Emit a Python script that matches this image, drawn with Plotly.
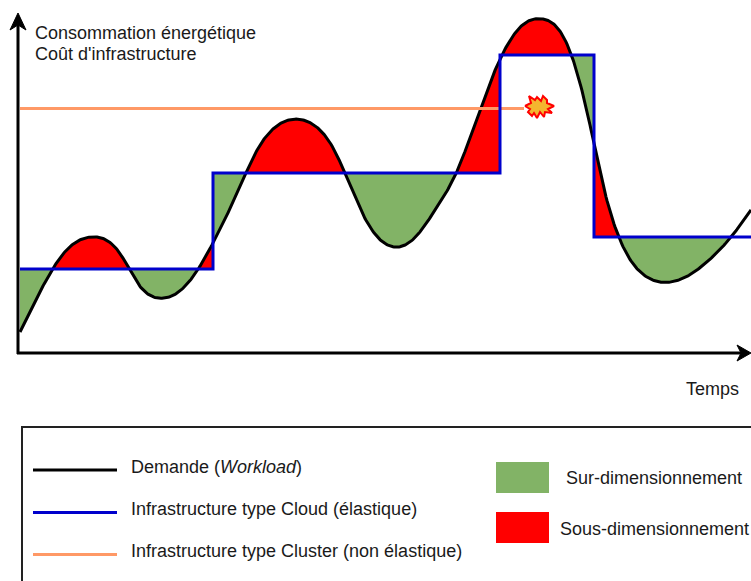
import numpy as np
import plotly.graph_objects as go

# Demand curve (time, level in picture units, level grows downward)
demand_x = [20, 43, 65, 93, 120, 138, 161, 188, 213, 237, 258, 275, 298, 318, 333, 358, 372, 398, 415, 433, 458, 478, 500, 523, 542, 558, 570, 588, 603, 619, 645, 667, 687, 710, 731, 751]
demand_y = [332, 286, 251.7, 236.9, 253.4, 283.7, 298.3, 283, 243, 193.2, 148.5, 127.3, 119.2, 128.2, 147.7, 204.2, 230.1, 247, 237.6, 213.3, 169, 115, 59.2, 24.6, 18.9, 28.5, 51.3, 115.9, 184.8, 237.5, 275.8, 282.4, 276.4, 259.2, 237.1, 210]

# Elastic infrastructure steps
cloud_edges = [20, 213, 500, 594, 751]
cloud_levels = [269, 173, 55, 237]
fill_end = 731

# Fixed cluster capacity
cluster_x = [20, 524]
cluster_y = [108.5, 108.5]

# Overload burst outline
burst_x = [525, 531, 529, 535, 537, 541, 543, 547, 547, 554, 548, 552, 545, 544, 540, 537, 534, 532, 528, 530]
burst_y = [106, 103, 96, 100, 97, 101, 96, 100, 103, 106, 109, 113, 112, 117, 112, 118, 113, 116, 112, 109]

# Labels
y_title = ["Consommation énergétique", "Coût d'infrastructure"]
x_title = "Temps"
line_labels = ["Demande (<i>Workload</i>)", "Infrastructure type Cloud (élastique)", "Infrastructure type Cluster (non élastique)"]
box_labels = ["Sur-dimensionnement", "Sous-dimensionnement"]

BLACK, BLUE, ORANGE, GREEN, RED = "#000000", "#0000CC", "#FF9966", "#82B366", "#FF0000"
FONT = "Liberation Sans, Arial, sans-serif"
TEXT = "#1a1a1a"


def smooth_curve(xs, ys, step=1.0):
    """Draw the hand-drawn curve through the read points with a natural cubic spline."""
    x, y = np.asarray(xs, float), np.asarray(ys, float)
    n = len(x)
    h = np.diff(x)
    A = np.zeros((n, n))
    r = np.zeros(n)
    A[0, 0] = A[-1, -1] = 1
    for i in range(1, n - 1):
        A[i, i - 1], A[i, i], A[i, i + 1] = h[i - 1], 2 * (h[i - 1] + h[i]), h[i]
        r[i] = 6 * ((y[i + 1] - y[i]) / h[i] - (y[i] - y[i - 1]) / h[i - 1])
    m = np.linalg.solve(A, r)
    q = np.arange(x[0], x[-1] + step, step)
    k = np.clip(np.searchsorted(x, q, side="right") - 1, 0, n - 2)
    a, b = (x[k + 1] - q) / h[k], (q - x[k]) / h[k]
    return q, a * y[k] + b * y[k + 1] + ((a ** 3 - a) * m[k] + (b ** 3 - b) * m[k + 1]) * h[k] ** 2 / 6


# Build over/under-provisioning polygons between the demand curve and the steps
dx, dy = smooth_curve(demand_x, demand_y)
polys = {GREEN: ([], []), RED: ([], [])}


def flush(px, py, lev):
    colour = GREEN if np.mean(py) > lev else RED
    polys[colour][0].extend([px[0], *px, px[-1], px[0], None])
    polys[colour][1].extend([lev, *py, lev, lev, None])


for x0, x1, lev in zip(cloud_edges[:-1], cloud_edges[1:], cloud_levels):
    x1 = min(x1, fill_end)
    inner = (dx > x0) & (dx < x1)
    xs = np.r_[x0, dx[inner], x1]
    ys = np.r_[np.interp(x0, dx, dy), dy[inner], np.interp(x1, dx, dy)]
    px, py = [xs[0]], [ys[0]]
    for i in range(1, len(xs)):
        a, b = ys[i - 1] - lev, ys[i] - lev
        if a * b < 0:
            xc = xs[i - 1] + (xs[i] - xs[i - 1]) * a / (a - b)
            px.append(xc); py.append(lev)
            flush(px, py, lev)
            px, py = [xc], [lev]
        px.append(xs[i]); py.append(ys[i])
    flush(px, py, lev)

fig = go.Figure()
for colour in (GREEN, RED):
    fig.add_trace(go.Scatter(x=polys[colour][0], y=polys[colour][1], mode="lines", fill="toself",
                             fillcolor=colour, line=dict(width=0), hoverinfo="skip"))
fig.add_trace(go.Scatter(x=dx, y=dy, mode="lines", line=dict(color=BLACK, width=3)))
fig.add_trace(go.Scatter(x=cluster_x, y=cluster_y, mode="lines", line=dict(color=ORANGE, width=3)))
step_x = [v for a, b in zip(cloud_edges[:-1], cloud_edges[1:]) for v in (a, b)]
step_y = [v for lev in cloud_levels for v in (lev, lev)]
fig.add_trace(go.Scatter(x=step_x, y=step_y, mode="lines", line=dict(color=BLUE, width=3)))
fig.add_trace(go.Scatter(x=burst_x + burst_x[:1], y=burst_y + burst_y[:1], mode="lines", fill="toself",
                         fillcolor="#F4B62F", line=dict(color=RED, width=2)))

shapes = [
    # Axes
    dict(type="line", x0=18, x1=18, y0=354, y1=22, line=dict(color=BLACK, width=3)),
    dict(type="line", x0=17, x1=745, y0=353, y1=353, line=dict(color=BLACK, width=3)),
    dict(type="path", path="M18,13 L26,30 L18,25 L10,30 Z", fillcolor=BLACK, line=dict(color=BLACK, width=1)),
    dict(type="path", path="M751,353 L737,361 L741,353 L737,345 Z", fillcolor=BLACK, line=dict(color=BLACK, width=1)),
    # Legend box
    dict(type="rect", x0=22, x1=760, y0=427, y1=590, line=dict(color="#222222", width=2)),
    # Legend keys
    dict(type="line", x0=33, x1=117, y0=470, y1=470, line=dict(color=BLACK, width=3)),
    dict(type="line", x0=33, x1=117, y0=512.5, y1=512.5, line=dict(color=BLUE, width=3)),
    dict(type="line", x0=33, x1=117, y0=554.5, y1=554.5, line=dict(color=ORANGE, width=3)),
    dict(type="rect", x0=496, x1=549, y0=462, y1=493, fillcolor=GREEN, line=dict(width=0)),
    dict(type="rect", x0=496, x1=549, y0=512, y1=543, fillcolor=RED, line=dict(width=0)),
]


def label(text, x, y):
    return dict(text=text, x=x, y=y, xanchor="left", yanchor="middle", showarrow=False,
                borderpad=0, borderwidth=0,
                font=dict(family=FONT, size=18, color=TEXT))


annotations = [
    label(y_title[0], 35, 33), label(y_title[1], 35, 54),
    label(x_title, 686, 389),
    label(line_labels[0], 131, 467), label(line_labels[1], 131, 509), label(line_labels[2], 131, 551),
    label(box_labels[0], 566, 478), label(box_labels[1], 560, 529),
]

fig.update_layout(
    width=751, height=581, margin=dict(l=0, r=0, t=0, b=0),
    paper_bgcolor="white", plot_bgcolor="white", showlegend=False,
    xaxis=dict(range=[0, 751], visible=False, fixedrange=True),
    yaxis=dict(range=[581, 0], visible=False, fixedrange=True),
    shapes=shapes, annotations=annotations,
)
fig.write_html("out.html", config=dict(displayModeBar=False),
               post_script="document.body.style.margin='0';")
